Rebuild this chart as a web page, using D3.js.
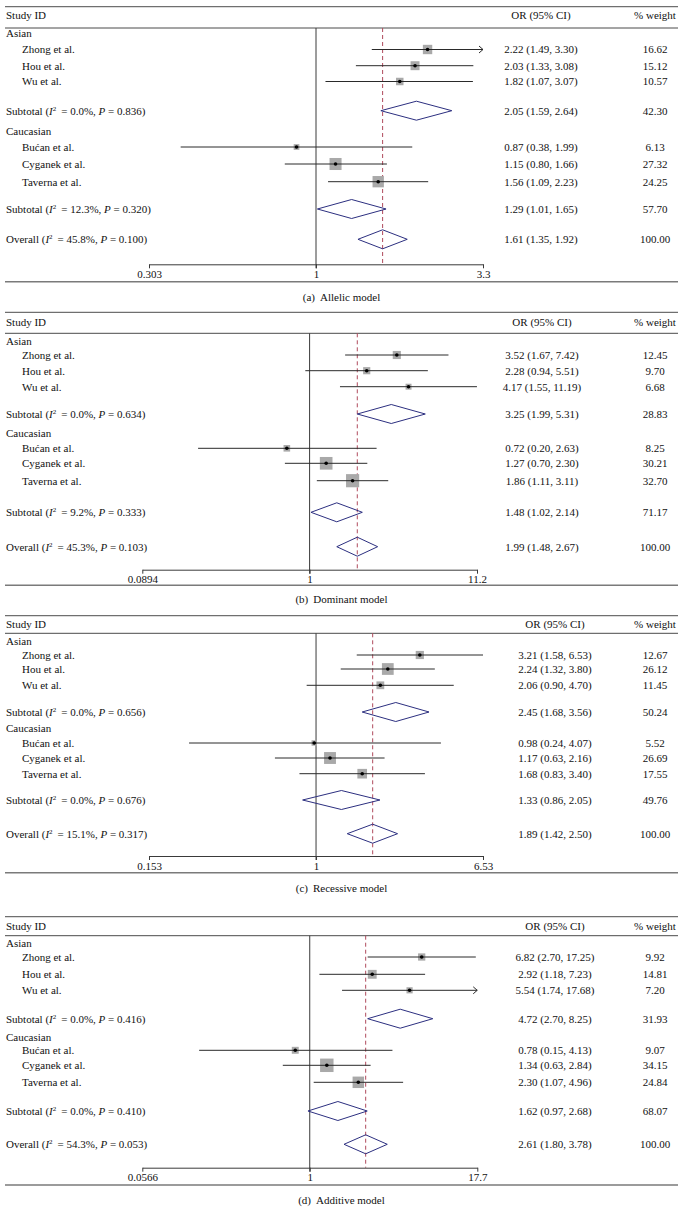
<!DOCTYPE html>
<html>
<head>
<meta charset="utf-8">
<script src="https://cdn.jsdelivr.net/npm/d3@7"></script>
<style>
  html, body { margin: 0; padding: 0; background: #fff; }
  svg { display: block; }
  text { font-family: "Liberation Serif", "DejaVu Serif", serif; fill: #111; }
</style>
</head>
<body>
<script>
// ---------------- DATA ----------------
const studies = ["Zhong et al.", "Hou et al.", "Wu et al.", "Bućan et al.", "Cyganek et al.", "Taverna et al."];
const groups = ["Asian", "Caucasian"];
// order of estimates: Zhong, Hou, Wu, Subtotal(Asian), Bućan, Cyganek, Taverna, Subtotal(Caucasian), Overall
const allelicOR     = [2.22, 2.03, 1.82, 2.05, 0.87, 1.15, 1.56, 1.29, 1.61];
const allelicLow    = [1.49, 1.33, 1.07, 1.59, 0.38, 0.80, 1.09, 1.01, 1.35];
const allelicHigh   = [3.30, 3.08, 3.07, 2.64, 1.99, 1.66, 2.23, 1.65, 1.92];
const allelicWeight = [16.62, 15.12, 10.57, 42.30, 6.13, 27.32, 24.25, 57.70, 100.00];
const allelicI2     = ["0.0%", "12.3%", "45.8%"];
const allelicP      = ["0.836", "0.320", "0.100"];
const allelicTicks  = ["0.303", "1", "3.3"];
const allelicArrows = ["Zhong et al."];

const dominantOR     = [3.52, 2.28, 4.17, 3.25, 0.72, 1.27, 1.86, 1.48, 1.99];
const dominantLow    = [1.67, 0.94, 1.55, 1.99, 0.20, 0.70, 1.11, 1.02, 1.48];
const dominantHigh   = [7.42, 5.51, 11.19, 5.31, 2.63, 2.30, 3.11, 2.14, 2.67];
const dominantWeight = [12.45, 9.70, 6.68, 28.83, 8.25, 30.21, 32.70, 71.17, 100.00];
const dominantI2     = ["0.0%", "9.2%", "45.3%"];
const dominantP      = ["0.634", "0.333", "0.103"];
const dominantTicks  = ["0.0894", "1", "11.2"];
const dominantArrows = [];

const recessiveOR     = [3.21, 2.24, 2.06, 2.45, 0.98, 1.17, 1.68, 1.33, 1.89];
const recessiveLow    = [1.58, 1.32, 0.90, 1.68, 0.24, 0.63, 0.83, 0.86, 1.42];
const recessiveHigh   = [6.53, 3.80, 4.70, 3.56, 4.07, 2.16, 3.40, 2.05, 2.50];
const recessiveWeight = [12.67, 26.12, 11.45, 50.24, 5.52, 26.69, 17.55, 49.76, 100.00];
const recessiveI2     = ["0.0%", "0.0%", "15.1%"];
const recessiveP      = ["0.656", "0.676", "0.317"];
const recessiveTicks  = ["0.153", "1", "6.53"];
const recessiveArrows = [];

const additiveOR     = [6.82, 2.92, 5.54, 4.72, 0.78, 1.34, 2.30, 1.62, 2.61];
const additiveLow    = [2.70, 1.18, 1.74, 2.70, 0.15, 0.63, 1.07, 0.97, 1.80];
const additiveHigh   = [17.25, 7.23, 17.68, 8.25, 4.13, 2.84, 4.96, 2.68, 3.78];
const additiveWeight = [9.92, 14.81, 7.20, 31.93, 9.07, 34.15, 24.84, 68.07, 100.00];
const additiveI2     = ["0.0%", "0.0%", "54.3%"];
const additiveP      = ["0.416", "0.410", "0.053"];
const additiveTicks  = ["0.0566", "1", "17.7"];
const additiveArrows = ["Wu et al."];

const captions = [["(a)", "Allelic model"], ["(b)", "Dominant model"], ["(c)", "Recessive model"], ["(d)", "Additive model"]];

const models = [
  {or: allelicOR, lo: allelicLow, hi: allelicHigh, w: allelicWeight, i2: allelicI2, p: allelicP, ticks: allelicTicks, arrows: allelicArrows},
  {or: dominantOR, lo: dominantLow, hi: dominantHigh, w: dominantWeight, i2: dominantI2, p: dominantP, ticks: dominantTicks, arrows: dominantArrows},
  {or: recessiveOR, lo: recessiveLow, hi: recessiveHigh, w: recessiveWeight, i2: recessiveI2, p: recessiveP, ticks: recessiveTicks, arrows: recessiveArrows},
  {or: additiveOR, lo: additiveLow, hi: additiveHigh, w: additiveWeight, i2: additiveI2, p: additiveP, ticks: additiveTicks, arrows: additiveArrows}
];

// ---------------- LAYOUT ----------------
// row order: Asian, Zhong, Hou, Wu, Subtotal, Caucasian, Bućan, Cyganek, Taverna, Subtotal, Overall
const layouts = [
  {top: 6.7,   header: 8.6, hline: 21.3, rows: [26.6, 42.8, 59.0, 74.8, 104.0, 124.6, 140.3, 157.3, 175.0, 202.3, 232.6], axis: 257.6, bottom: 275.0, caption: 290.0, xr: [149, 483], orX: 541},
  {top: 312.3, header: 10.0, hline: 21.0, rows: [28.4, 42.7, 58.4, 74.4, 101.7, 121.0, 136.0, 151.0, 168.4, 200.0, 234.4], axis: 257.4, bottom: 273.0, caption: 287.3, xr: [142.3, 477], orX: 542},
  {top: 615.7, header: 8.3,  hline: 17.6, rows: [25.0, 39.3, 53.3, 69.6, 96.3, 112.6, 127.3, 142.3, 158.0, 184.3, 218.0], axis: 240.3, bottom: 257.0, caption: 272.6, xr: [149, 483], orX: 555},
  {top: 916.7, header: 9.3,  hline: 19.0, rows: [26.0, 40.3, 57.6, 73.6, 102.0, 120.0, 133.6, 148.6, 165.6, 194.3, 227.6], axis: 251.0, bottom: 268.3, caption: 283.3, xr: [142.3, 477.3], orX: 555}
];
const estRow = [1, 2, 3, 4, 6, 7, 8, 9, 10];   // estimate index -> row index
const estStudy = [0, 1, 2, null, 3, 4, 5, null, null];
const W = 683, H = 1222;
const leftX = 5, rightX = 678, wX = 655;
const fs = 11;

const svg = d3.select("body").append("svg").attr("width", W).attr("height", H);
const fmt = d3.format(".2f");

models.forEach((m, pi) => {
  const L = layouts[pi];
  const g = svg.append("g");
  const tickVals = m.ticks.map(Number);
  const x = d3.scaleLog().domain([tickVals[0], tickVals[2]]).range(L.xr);
  const y = r => L.top + L.rows[r];
  const yTop = L.top + L.hline, yAxis = L.top + L.axis;

  // horizontal rules
  g.append("line").attr("x1", leftX).attr("x2", rightX).attr("y1", L.top).attr("y2", L.top)
    .attr("stroke", "#6f6f6f").attr("stroke-width", 1.3);
  g.append("line").attr("x1", leftX).attr("x2", rightX).attr("y1", yTop).attr("y2", yTop)
    .attr("stroke", "#4a4a4a").attr("stroke-width", 1);
  g.append("line").attr("x1", leftX).attr("x2", rightX).attr("y1", L.top + L.bottom).attr("y2", L.top + L.bottom)
    .attr("stroke", "#7a7a7a").attr("stroke-width", 1.6);

  // header texts
  const ht = L.top + L.header;
  g.append("text").attr("x", 6).attr("y", ht).attr("dy", "0.35em").attr("font-size", fs).text("Study ID");
  g.append("text").attr("x", L.orX).attr("y", ht).attr("dy", "0.35em").attr("font-size", fs).attr("text-anchor", "middle").text("OR (95% CI)");
  g.append("text").attr("x", wX).attr("y", ht).attr("dy", "0.35em").attr("font-size", fs).attr("text-anchor", "middle").text("% weight");

  // no-effect line and overall dashed line
  g.append("line").attr("x1", x(1)).attr("x2", x(1)).attr("y1", yTop).attr("y2", yAxis + 4)
    .attr("stroke", "#3a3a3a").attr("stroke-width", 1);
  g.append("line").attr("x1", x(m.or[8])).attr("x2", x(m.or[8])).attr("y1", yTop).attr("y2", yAxis)
    .attr("stroke", "#b04a5c").attr("stroke-width", 1).attr("stroke-dasharray", "4,3");

  // group labels
  g.append("text").attr("x", 6).attr("y", y(0)).attr("dy", "0.35em").attr("font-size", fs).text(groups[0]);
  g.append("text").attr("x", 6).attr("y", y(5)).attr("dy", "0.35em").attr("font-size", fs).text(groups[1]);

  // estimates
  m.or.forEach((v, k) => {
    const yy = y(estRow[k]);
    const si = estStudy[k];
    // right columns
    g.append("text").attr("x", L.orX).attr("y", yy).attr("dy", "0.35em").attr("font-size", fs)
      .attr("text-anchor", "middle").text(`${fmt(v)} (${fmt(m.lo[k])}, ${fmt(m.hi[k])})`);
    g.append("text").attr("x", wX).attr("y", yy).attr("dy", "0.35em").attr("font-size", fs)
      .attr("text-anchor", "middle").text(fmt(m.w[k]));

    if (si !== null) {
      g.append("text").attr("x", 22).attr("y", yy).attr("dy", "0.35em").attr("font-size", fs).text(studies[si]);
      const side = 2.3 * Math.sqrt(m.w[k]);
      g.append("rect").attr("x", x(v) - side / 2).attr("y", yy - side / 2).attr("width", side).attr("height", side)
        .attr("fill", "#a9a9a9");
      const hasArrow = m.arrows.includes(studies[si]);
      const x1 = x(Math.max(m.lo[k], tickVals[0]));
      const x2 = x(Math.min(m.hi[k], tickVals[2]));
      g.append("line").attr("x1", x1).attr("x2", x2).attr("y1", yy).attr("y2", yy)
        .attr("stroke", "#2a2a2a").attr("stroke-width", 1);
      if (hasArrow) {
        g.append("path").attr("d", `M${x2 - 4},${yy - 3.5}L${x2},${yy}L${x2 - 4},${yy + 3.5}`)
          .attr("fill", "none").attr("stroke", "#2a2a2a").attr("stroke-width", 1);
      }
      g.append("circle").attr("cx", x(v)).attr("cy", yy).attr("r", 1.8).attr("fill", "#000");
    } else {
      // subtotal / overall label
      const j = k === 3 ? 0 : (k === 7 ? 1 : 2);
      const t = g.append("text").attr("x", 6).attr("y", yy).attr("dy", "0.35em").attr("font-size", fs);
      t.append("tspan").text(j === 2 ? "Overall (" : "Subtotal (");
      t.append("tspan").attr("font-style", "italic").text("I");
      t.append("tspan").attr("font-size", 7).attr("dy", -4).text("2");
      t.append("tspan").attr("dy", 4).text("\u2009 = " + m.i2[j] + ", ");
      t.append("tspan").attr("font-style", "italic").text("P");
      t.append("tspan").text(" = " + m.p[j] + ")");
      // diamond
      const h = 9.5;
      g.append("path")
        .attr("d", `M${x(m.lo[k])},${yy}L${x(v)},${yy - h}L${x(m.hi[k])},${yy}L${x(v)},${yy + h}Z`)
        .attr("fill", "none").attr("stroke", "#2c2f80").attr("stroke-width", 1);
    }
  });

  // axis
  const ax = d3.axisBottom(x).tickValues(tickVals).tickSize(4).tickSizeOuter(0).tickPadding(2)
    .tickFormat((d, i) => m.ticks[i]);
  const axg = g.append("g").attr("transform", `translate(0,${yAxis})`).call(ax);
  axg.attr("font-family", null).attr("font-size", null);
  axg.select(".domain").attr("stroke", "#3a3a3a").attr("stroke-width", 1);
  axg.selectAll(".tick line").attr("stroke", "#3a3a3a");
  axg.selectAll(".tick text").attr("font-size", fs).attr("fill", "#111")
    .style("font-family", '"Liberation Serif", "DejaVu Serif", serif');

  // caption
  const ct = g.append("text").attr("x", W / 2).attr("y", L.top + L.caption).attr("dy", "0.35em")
    .attr("font-size", fs).attr("text-anchor", "middle");
  ct.append("tspan").text(captions[pi][0]);
  ct.append("tspan").attr("dx", 5).text(captions[pi][1]);
});
</script>
</body>
</html>
